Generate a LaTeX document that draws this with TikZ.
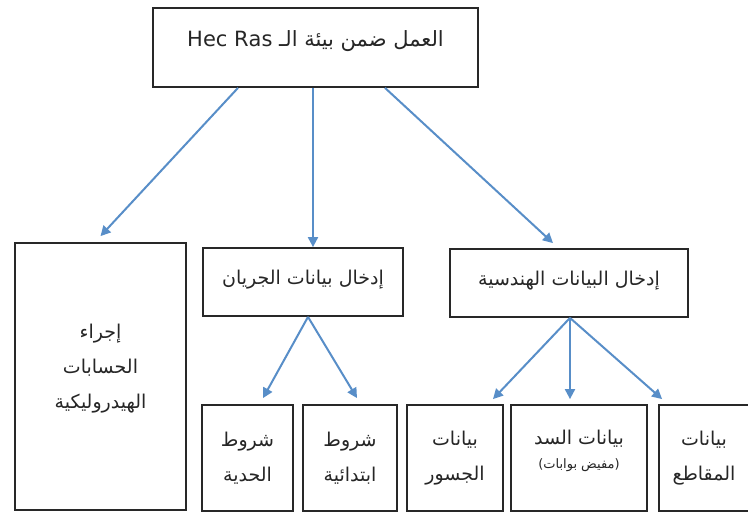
\documentclass[tikz,border=0pt]{standalone}
\usepackage{fontspec}
\usetikzlibrary{arrows.meta,calc}
\TeXXeTstate=1
\newfontfamily\arabicfont[Script=Arabic]{DejaVu Sans}
\definecolor{arrowblue}{RGB}{88,142,200}
\definecolor{boxline}{RGB}{40,40,40}
\begin{document}
\begin{tikzpicture}[x=1pt,y=-1pt,
  box/.style={draw=boxline,line width=1.8pt,rectangle,inner sep=0pt},
  lbl/.style={font=\arabicfont\fontsize{19}{35}\selectfont,align=center,text=black!85},
  arr/.style={draw=arrowblue,line width=2pt,-{Triangle[length=10pt,width=10pt]}}]
\clip (0,0) rectangle (748,513);
\fill[white] (0,0) rectangle (748,513);
% boxes
\node[box,minimum width=325pt,minimum height=79pt] (top) at (315.5,47.5) {};
\node[box,minimum width=171pt,minimum height=267pt] (calc) at (100.5,376.5) {};
\node[box,minimum width=200pt,minimum height=68pt] (flow) at (303,282) {};
\node[box,minimum width=238pt,minimum height=68pt] (geom) at (569,283) {};
\node[box,minimum width=91pt,minimum height=106pt] (bnd) at (247.5,458) {};
\node[box,minimum width=94pt,minimum height=106pt] (init) at (350,458) {};
\node[box,minimum width=96pt,minimum height=106pt] (brg) at (455,458) {};
\node[box,minimum width=136pt,minimum height=106pt] (dam) at (579,458) {};
\node[box,minimum width=101pt,minimum height=106pt] (sec) at (709.5,458) {};
% labels
\node[lbl,font=\arabicfont\fontsize{21}{35}\selectfont] (toptxt) at (315.5,41) {\beginR العمل ضمن بيئة الـ \beginL Hec Ras\endL\endR};
\node[lbl] (calctxt) at (100.5,369) {\beginR إجراء\endR\\\beginR الحسابات\endR\\\beginR الهيدروليكية\endR};
\node[lbl] (flowtxt) at (303,280) {\beginR إدخال بيانات الجريان\endR};
\node[lbl] (geomtxt) at (569,281) {\beginR إدخال البيانات الهندسية\endR};
\node[lbl] (bndtxt) at (247.5,458) {\beginR شروط\endR\\\beginR الحدية\endR};
\node[lbl] (inittxt) at (350,458) {\beginR شروط\endR\\\beginR ابتدائية\endR};
\node[lbl] (brgtxt) at (455,458) {\beginR بيانات\endR\\\beginR الجسور\endR};
\node[lbl] (damtxt) at (579,439) {\beginR بيانات السد\endR};
\node[lbl,font=\arabicfont\fontsize{13}{15}\selectfont] (damsub) at (579,465) {\beginR(مفيض بوابات)\endR};
\node[lbl] (sectxt) at (704,458) {\beginR بيانات\endR\\\beginR المقاطع\endR};
% connectors
\draw[arr] ($(top.south)+(-77.5,0)$) -- ($(calc.north)+(0,-6)$);
\draw[arr] ($(top.south)+(-2.5,0)$) -- ($(flow.north)+(10,0)$);
\draw[arr] ($(top.south)+(69.5,0)$) -- ($(geom.north)+(-16,-5)$);
\draw[arr] ($(flow.south)+(5,0)$) -- ($(bnd.north)+(15.5,-6)$);
\draw[arr] ($(flow.south)+(5,0)$) -- ($(init.north)+(7,-6)$);
\draw[arr] ($(geom.south)+(1,0)$) -- ($(brg.north)+(38,-5)$);
\draw[arr] ($(geom.south)+(1,0)$) -- ($(dam.north)+(-9,-5)$);
\draw[arr] ($(geom.south)+(1,0)$) -- ($(sec.north west)+(4,-5)$);
\end{tikzpicture}
\end{document}
